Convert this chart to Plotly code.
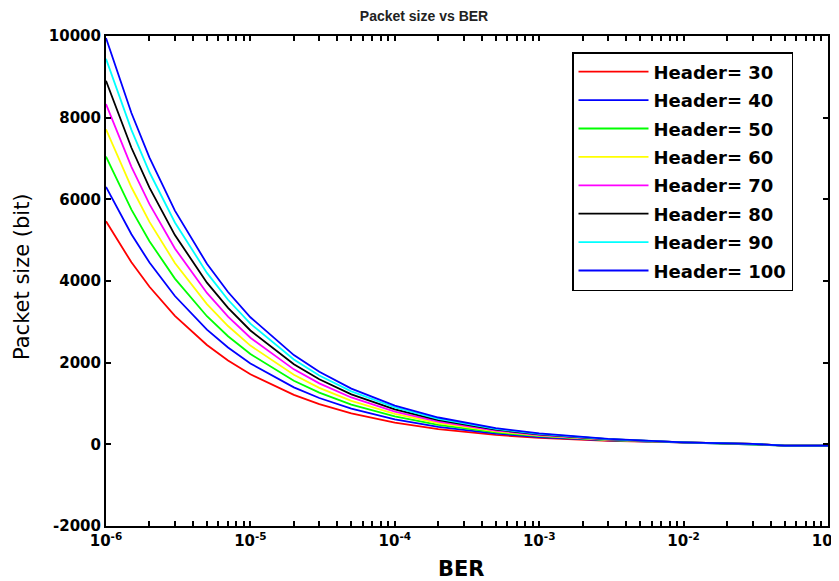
import plotly.graph_objects as go

ber = [1e-6, 1.5e-6, 2e-6, 3e-6, 5e-6, 7e-6, 1e-5, 2e-5, 3e-5, 5e-5,
       1e-4, 2e-4, 5e-4, 1e-3, 3e-3, 1e-2, 3e-2, 5e-2, 1e-1]

h30 = [5462, 4457, 3858, 3147, 2434, 2055, 1717, 1210, 985, 759,
       533, 372, 230, 158, 85, 40, 10, -30, -30]
h40 = [6305, 5144, 4452, 3632, 2809, 2371, 1980, 1394, 1135, 874,
       612, 427, 263, 180, 96, 43, 10, -30, -30]
h50 = [7046, 5749, 4975, 4058, 3137, 2648, 2211, 1556, 1266, 975,
       682, 475, 291, 199, 104, 46, 10, -30, -30]
h60 = [7716, 6295, 5447, 4442, 3434, 2898, 2419, 1702, 1384, 1065,
       745, 518, 316, 215, 112, 47, 10, -30, -30]
h70 = [8332, 6797, 5881, 4796, 3707, 3128, 2611, 1836, 1493, 1148,
       802, 557, 339, 229, 118, 49, 10, -30, -30]
h80 = [8904, 7263, 6285, 5124, 3960, 3341, 2788, 1960, 1593, 1225,
       854, 592, 360, 243, 124, 49, 10, -30, -30]
h90 = [9442, 7701, 6663, 5433, 4198, 3541, 2955, 2076, 1687, 1296,
       904, 626, 379, 255, 129, 50, 10, -30, -30]
h100 = [9950, 8115, 7021, 5724, 4422, 3730, 3112, 2186, 1776, 1364,
        950, 657, 397, 266, 133, 50, 10, -30, -30]

series_names = ["Header= 30", "Header= 40", "Header= 50", "Header= 60",
                "Header= 70", "Header= 80", "Header= 90", "Header= 100"]
series_values = [h30, h40, h50, h60, h70, h80, h90, h100]
colors = ["#FF0000", "#0000FF", "#00FF00", "#FFFF00",
          "#FF00FF", "#000000", "#00FFFF", "#0000FF"]

x_decades = [1e-6, 1e-5, 1e-4, 1e-3, 1e-2, 1e-1]
x_decade_labels = ["10<sup>-6</sup>", "10<sup>-5</sup>", "10<sup>-4</sup>",
                   "10<sup>-3</sup>", "10<sup>-2</sup>", "10<sup>-1</sup>"]
y_ticks = [-2000, 0, 2000, 4000, 6000, 8000, 10000]

fig = go.Figure()
for i, (name, vals, col) in enumerate(zip(series_names, series_values, colors)):
    fig.add_trace(go.Scatter(x=ber, y=vals, mode="lines", name=name,
                             legendgroup=f"g{i}",
                             line=dict(color=col, width=1.8)))

# tick positions: decades plus 2..9 multiples (unlabelled)
xtickvals, xticktext = [], []
for d, lab in zip(x_decades, x_decade_labels):
    xtickvals.append(d)
    xticktext.append(lab)
    if d < 1e-1:
        for m in range(2, 10):
            xtickvals.append(d * m)
            xticktext.append("")

dv = "DejaVu Sans, sans-serif"
lib = "Liberation Sans, Arial, sans-serif"
OFF = 8  # page body margin
W, H = 839 - OFF, 581 - OFF
L, T = 106 - OFF, 36 - OFF
R = W - (828 - OFF)
B = H - (526 - OFF)
pw, ph = W - L - R, H - T - B


def px(xp):
    return (xp - OFF - L) / pw


def py(yp):
    return ((H - B) - (yp - OFF)) / ph


fig.update_layout(
    width=W, height=H,
    margin=dict(l=L, r=R, t=T, b=B),
    paper_bgcolor="white", plot_bgcolor="white",
    title=dict(text="Packet size vs BER", x=(424 - OFF) / W, xanchor="center",
               xref="container", yref="container", y=1.0, yanchor="top",
               pad=dict(t=3),
               font=dict(family=lib, size=14, color="#222", weight="bold")),
    showlegend=True,
    legend=dict(x=px(572), y=py(52), xanchor="left", yanchor="top",
                bgcolor="white", bordercolor="black", borderwidth=1.5,
                font=dict(family=dv, size=18, color="black", weight="bold"),
                itemwidth=70, tracegroupgap=2, traceorder="grouped"),
    xaxis=dict(type="log", range=[-6, -1], automargin=False,
               tickvals=xtickvals, ticktext=xticktext,
               ticklabeloverflow="allow",
               ticks="inside", ticklen=5, tickwidth=1.5, tickcolor="black",
               showline=True, linecolor="black", linewidth=2, mirror="ticks",
               showgrid=False, zeroline=False,
               tickfont=dict(family=dv, size=15, color="black", weight="bold")),
    yaxis=dict(range=[-2000, 10000], tickvals=y_ticks, automargin=False,
               ticktext=[str(v) for v in y_ticks],
               ticks="inside", ticklen=5, tickwidth=1.5, tickcolor="black",
               showline=True, linecolor="black", linewidth=2, mirror="ticks",
               showgrid=False, zeroline=False,
               tickfont=dict(family=dv, size=15, color="black", weight="bold")),
    annotations=[
        dict(text="BER", xref="paper", yref="paper",
             x=px(461), y=py(569),
             xanchor="center", yanchor="middle", showarrow=False,
             font=dict(family=dv, size=21, color="black", weight="bold")),
        dict(text="Packet size (bit)", xref="paper", yref="paper",
             x=px(22), y=py(277), textangle=-90,
             xanchor="center", yanchor="middle", showarrow=False,
             font=dict(family=dv, size=21, color="black")),
    ],
)

fig.write_html("out.html")
